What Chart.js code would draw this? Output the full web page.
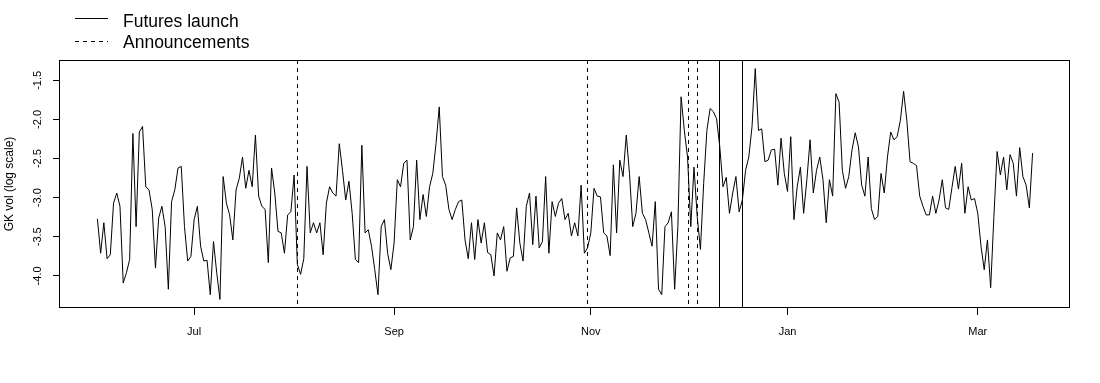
<!DOCTYPE html>
<html>
<head>
<meta charset="utf-8">
<script src="https://cdn.jsdelivr.net/npm/chart.js@4.4.0/dist/chart.umd.min.js"></script>
<style>
  html, body { margin: 0; padding: 0; background: #fff; }
  #wrap { width: 1100px; height: 383px; }
</style>
</head>
<body>
<div id="wrap"><canvas id="chartVol" width="1100" height="383"></canvas></div>
<script>
// daily GK vol (log scale), day 0 = 2017-06-01
const gkVol = [
  -3.27, -3.71, -3.32, -3.78, -3.73, -3.07, -2.94, -3.11, -4.09, -3.96,
  -3.79, -2.18, -3.37, -2.16, -2.09, -2.86, -2.90, -3.15, -3.90, -3.26,
  -3.11, -3.37, -4.17, -3.05, -2.90, -2.62, -2.60, -3.37, -3.81, -3.75,
  -3.28, -3.11, -3.62, -3.81, -3.80, -4.24, -3.56, -3.96, -4.30, -2.73,
  -3.07, -3.22, -3.54, -2.90, -2.75, -2.48, -2.88, -2.65, -2.86, -2.20,
  -2.98, -3.11, -3.15, -3.83, -2.62, -2.94, -3.43, -3.45, -3.71, -3.22,
  -3.18, -2.71, -3.85, -3.98, -3.78, -2.60, -3.45, -3.32, -3.45, -3.32,
  -3.73, -3.07, -2.86, -2.94, -2.98, -2.31, -2.65, -3.03, -2.79, -3.20,
  -3.79, -3.83, -2.33, -3.45, -3.41, -3.62, -3.92, -4.24, -3.37, -3.28,
  -3.71, -3.92, -3.58, -2.77, -2.86, -2.56, -2.52, -3.54, -3.37, -2.52,
  -3.28, -2.96, -3.24, -2.86, -2.69, -2.31, -1.84, -2.73, -2.84, -3.15,
  -3.28, -3.15, -3.05, -3.03, -3.54, -3.78, -3.32, -3.79, -3.28, -3.58,
  -3.32, -3.70, -3.73, -4.00, -3.45, -3.54, -3.37, -3.94, -3.77, -3.75,
  -3.13, -3.58, -3.81, -3.11, -2.94, -3.60, -2.98, -3.64, -3.56, -2.73,
  -3.71, -3.05, -3.24, -3.07, -3.01, -3.28, -3.20, -3.49, -3.32, -3.49,
  -2.84, -3.71, -3.64, -3.45, -2.88, -2.98, -2.99, -3.45, -3.49, -3.74,
  -2.58, -3.45, -2.52, -2.73, -2.20, -2.69, -3.37, -3.20, -2.73, -3.20,
  -3.28, -3.45, -3.62, -3.05, -4.17, -4.24, -3.37, -3.32, -3.18, -4.17,
  -3.37, -1.71, -2.14, -2.48, -3.37, -2.61, -3.24, -3.66, -2.82, -2.14,
  -1.86, -1.90, -1.99, -2.35, -2.86, -2.74, -3.20, -2.94, -2.73, -3.18,
  -3.03, -2.65, -2.48, -2.09, -1.35, -2.14, -2.12, -2.54, -2.52, -2.39,
  -2.38, -2.84, -2.24, -2.69, -2.92, -2.22, -3.28, -2.86, -2.61, -3.20,
  -2.77, -2.26, -2.94, -2.65, -2.48, -2.77, -3.32, -2.77, -2.98, -1.67,
  -1.78, -2.65, -2.88, -2.73, -2.39, -2.17, -2.35, -2.84, -2.98, -2.48,
  -3.14, -3.28, -3.24, -2.69, -2.94, -2.48, -2.16, -2.26, -2.22, -2.01,
  -1.64, -2.01, -2.54, -2.56, -2.59, -2.98, -3.11, -3.22, -3.22, -2.98,
  -3.20, -3.03, -2.77, -3.13, -3.15, -2.87, -2.60, -2.89, -2.56, -3.20,
  -2.86, -3.03, -3.01, -3.20, -3.62, -3.92, -3.54, -4.15, -3.24, -2.41,
  -2.71, -2.48, -2.90, -2.45, -2.56, -2.98, -2.36, -2.73, -2.84, -3.13,
  -2.43
];

// x axis: month starts, in days since 2017-06-01
const monthTicks = [30, 92, 153, 214, 273];
const monthLabels = ['Jul', 'Sep', 'Nov', 'Jan', 'Mar'];
const yTicks = [-4.0, -3.5, -3.0, -2.5, -2.0, -1.5];

// event lines (days since 2017-06-01)
const launchDays = [192.9, 199.8];
const announceDays = [61.8, 151.7, 183.1, 185.9];
const legendLabels = ['Futures launch', 'Announcements'];

const FONT = '"Liberation Sans", Arial, sans-serif';

// cuadro, lineas de eventos, etiquetas Y y leyenda al estilo R
const rStyle = {
    id: 'rStyle',
    afterDatasetsDraw(chart) {
        const { ctx, chartArea: a, scales: { x, y } } = chart;
        ctx.save();
        ctx.strokeStyle = '#000';
        ctx.lineWidth = 1;

        const vline = (d, dash) => {
            const px = Math.round(x.getPixelForValue(d)) + 0.5;
            ctx.setLineDash(dash);
            ctx.beginPath();
            ctx.moveTo(px, a.top);
            ctx.lineTo(px, a.bottom);
            ctx.stroke();
        };
        announceDays.forEach(d => vline(d, [4, 4]));
        launchDays.forEach(d => vline(d, []));
        ctx.setLineDash([]);

        // box
        ctx.strokeRect(a.left - 0.5, a.top + 0.5, a.right - a.left, a.bottom - a.top - 1);

        // y tick labels, rotated like las=0
        ctx.fillStyle = '#000';
        ctx.font = '11px ' + FONT;
        ctx.textAlign = 'center';
        ctx.textBaseline = 'middle';
        yTicks.forEach(v => {
            const py = y.getPixelForValue(v);
            ctx.save();
            ctx.translate(38, py);
            ctx.rotate(-Math.PI / 2);
            ctx.fillText(v.toFixed(1), 0, 0);
            ctx.restore();
        });

        // legend
        ctx.font = '17.5px ' + FONT;
        ctx.textAlign = 'left';
        ctx.textBaseline = 'alphabetic';
        const rows = [{ y: 18.5, base: 27, dash: [] }, { y: 41.5, base: 48, dash: [4, 4] }];
        rows.forEach((r, i) => {
            ctx.setLineDash(r.dash);
            ctx.beginPath();
            ctx.moveTo(75, r.y);
            ctx.lineTo(108, r.y);
            ctx.stroke();
            ctx.setLineDash([]);
            ctx.fillText(legendLabels[i], 123, r.base);
        });
        ctx.restore();
    }
};

const tickGrid = { drawOnChartArea: false, drawTicks: true, tickLength: 7, color: '#000', lineWidth: 1 };

new Chart(document.getElementById('chartVol'), {
    type: 'line',
    data: {
        datasets: [{
            label: 'GK vol',
            data: gkVol.map((v, i) => ({ x: i, y: v })),
            borderColor: '#000',
            borderWidth: 1,
            borderJoinStyle: 'round',
            pointRadius: 0,
            tension: 0,
            fill: false
        }]
    },
    options: {
        responsive: false,
        animation: false,
        devicePixelRatio: 1,
        layout: { padding: { top: 60, right: 30, left: 0, bottom: 0 } },
        plugins: { legend: { display: false }, tooltip: { enabled: false } },
        scales: {
            x: {
                type: 'linear',
                min: -11.6,
                max: 301.6,
                afterFit: s => { s.height = 75; },
                afterBuildTicks: s => { s.ticks = monthTicks.map(v => ({ value: v })); },
                grid: tickGrid,
                border: { display: false },
                ticks: {
                    autoSkip: false,
                    maxRotation: 0,
                    padding: 10,
                    color: '#000',
                    font: { size: 11, family: FONT },
                    callback: (v, i) => monthLabels[i]
                }
            },
            y: {
                type: 'linear',
                min: -4.41,
                max: -1.24,
                afterFit: s => { s.width = 60; },
                afterBuildTicks: s => { s.ticks = yTicks.map(v => ({ value: v })); },
                grid: tickGrid,
                border: { display: false },
                ticks: { display: false },
                title: {
                    display: true,
                    text: 'GK vol (log scale)',
                    color: '#000',
                    font: { size: 12, family: FONT },
                    padding: { top: 2, bottom: 0 }
                }
            }
        }
    },
    plugins: [rStyle]
});
</script>
</body>
</html>
